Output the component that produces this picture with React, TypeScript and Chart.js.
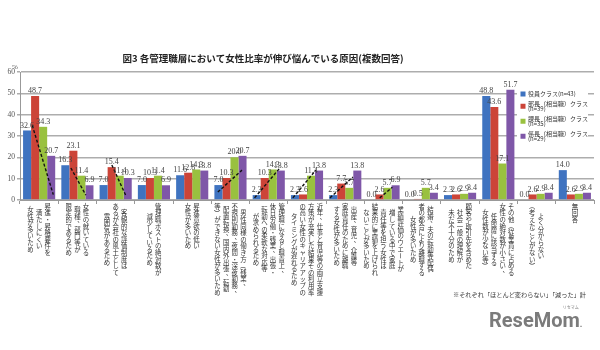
import React, { useEffect, useRef } from "react";
import { Chart, registerables } from "chart.js";
Chart.register(...registerables);

// Category labels: each entry is a list of vertical columns, read right to left
const categories: string[][] = [
  ["昇進・昇格要件を", "満たしにくい", "女性が多いため"],
  ["女性の就いている", "職種、部門等が", "限定的であるため"],
  ["客観的な評価制度は", "あるが会社の風土として", "雰囲気があるため"],
  ["管理職ポストの絶対数が", "減少しているため"],
  ["昇進意欲の低い", "女性が多いため"],
  ["男性同様の働き方（残業、", "不規則勤務、夜間・深夜勤務、", "配置転換、国内外出張、転勤", "等）ができない女性が多いため"],
  ["管理職になると職責上、", "休日労働・残業、出張・", "転勤への柔軟な対応等", "が求められるため"],
  ["近年、仕事と育児等の両立支援", "方策が充実した結果その利用率", "の高い女性のキャリアアップの", "タイミングが遅れるため"],
  ["出産、育児、介護等", "家庭責任のために離職", "する女性が多いため"],
  ["業績評価のウエートが", "増している中で家庭", "責任等を担う女性は", "結果的に業績を上げられ", "ないことが多いため"],
  ["結婚、夫の転勤等配偶", "者の都合により離職する", "女性が多いため"],
  ["顧客や取引先を含めた", "社会一般の理解が", "未だ不十分のため"],
  ["その他（従業員に占める", "女性の絶対数が小さい、", "任命層に該当する", "女性数が少ない等）"],
  ["よく分からない", "（考えたことがない）"],
  ["無回答"],
];

const seriesNames: string[][] = [
  ["役員クラス(n=43)"],
  ["部長（相当職）クラス", "(n=39)"],
  ["課長（相当職）クラス", "(n=35)"],
  ["係長（相当職）クラス", "(n=29)"],
];

const yakuin = [32.6, 16.3, 7.0, 7.0, 11.6, 7.0, 2.3, 2.3, 2.3, 0.0, 0.0, 2.3, 48.8, 0.0, 14.0];
const bucho = [48.7, 23.1, 15.4, 10.3, 12.8, 10.3, 10.3, 2.6, 7.7, 2.6, 0.5, 2.6, 43.6, 2.6, 2.6];
const kacho = [34.3, 11.4, 11.4, 11.4, 14.3, 20.0, 14.3, 11.4, 5.7, 5.7, 5.7, 2.9, 17.1, 2.9, 2.9];
const kakari = [20.7, 6.9, 10.3, 6.9, 13.8, 20.7, 13.8, 13.8, 13.8, 6.9, 3.4, 3.4, 51.7, 3.4, 3.4];

const yTicks = [0, 10, 20, 30, 40, 50, 60];

// dashed trend annotations (value at start, value at end), null = none
const trendFrom: (number | null)[] = [35, 15, 16.4, null, null, 3.7, 1, 1, 1, 1, null, null, null, null, null];
const trendTo: (number | null)[] = [2.5, 2.3, 2.3, null, null, 14, 15, 14, 10.8, 6, null, null, null, null, null];

const colors = ["#3f73c0", "#cc4438", "#99c13f", "#7f57a8"];

const title = "図3 各管理職層において女性比率が伸び悩んでいる原因(複数回答)";
const footnote = "※それぞれ「ほとんど変わらない」「減った」計";

const CJK = '"Noto Sans CJK JP", sans-serif';
const SERIF = '"Liberation Serif", "DejaVu Serif", serif';

// horizontal offsets of trend lines, as fraction of category width
const trendOffsets: [number, number][] = [
  [-0.18, 0.37], [-0.17, 0.22], [-0.1, 0.26], [0, 0], [0, 0],
  [-0.33, 0.3], [-0.37, 0.29], [-0.37, 0.23], [-0.4, 0.2], [-0.1, 0.23],
  [0, 0], [0, 0], [0, 0], [0, 0], [0, 0],
];

const rotateChars = new Set(["ー", "（", "）", "(", ")", "「", "」", "―"]);

const decorPlugin = {
  id: "decor",
  afterDatasetsDraw(chart: any) {
    const ctx = chart.ctx as CanvasRenderingContext2D;
    const xs = chart.scales.x;
    const ys = chart.scales.y;
    const catW = (chart.chartArea.right - chart.chartArea.left) / categories.length;

    // trend lines
    ctx.save();
    ctx.strokeStyle = "#111";
    ctx.lineWidth = 1.4;
    ctx.setLineDash([3, 2]);
    trendFrom.forEach((f, i) => {
      const t = trendTo[i];
      if (f == null || t == null) return;
      const cx = xs.getPixelForValue(i);
      const [o1, o2] = trendOffsets[i];
      ctx.beginPath();
      ctx.moveTo(cx + o1 * catW, ys.getPixelForValue(f));
      ctx.lineTo(cx + o2 * catW, ys.getPixelForValue(t));
      ctx.stroke();
    });
    ctx.restore();

    // data labels
    ctx.save();
    ctx.font = `8px ${SERIF}`;
    ctx.fillStyle = "#444";
    ctx.textAlign = "center";
    ctx.textBaseline = "bottom";
    chart.data.datasets.forEach((ds: any, di: number) => {
      const meta = chart.getDatasetMeta(di);
      meta.data.forEach((el: any, i: number) => {
        ctx.fillText(Number(ds.data[i]).toFixed(1), el.x, el.y - 1);
      });
    });
    ctx.restore();
  },
  afterDraw(chart: any) {
    const ctx = chart.ctx as CanvasRenderingContext2D;
    const xs = chart.scales.x;
    const area = chart.chartArea;

    // "%" unit
    ctx.save();
    ctx.font = `7px ${SERIF}`;
    ctx.fillStyle = "#555";
    ctx.textAlign = "center";
    ctx.textBaseline = "middle";
    ctx.fillText("%", 15, area.top - 5);
    ctx.restore();

    // title
    ctx.save();
    ctx.font = `bold 9.5px ${CJK}`;
    ctx.fillStyle = "#222";
    ctx.textAlign = "center";
    ctx.textBaseline = "middle";
    ctx.fillText(title, 263, 58);
    ctx.restore();

    // vertical category labels
    const charPitch = 6.6;
    const colPitch = 8.6;
    const top = area.bottom + 3;
    ctx.save();
    ctx.font = `6.4px ${CJK}`;
    ctx.fillStyle = "#333";
    ctx.textAlign = "center";
    ctx.textBaseline = "middle";
    categories.forEach((cols, i) => {
      const cx = xs.getPixelForValue(i);
      const n = cols.length;
      const maxLen = Math.max(...cols.map((c) => Array.from(c).length));
      cols.forEach((col, j) => {
        const x = cx + ((n - 1) / 2 - j) * colPitch;
        const chars = Array.from(col);
        const start = top + ((maxLen - chars.length) / 2) * charPitch;
        chars.forEach((ch, k) => {
          const y = start + k * charPitch + charPitch / 2;
          if (rotateChars.has(ch)) {
            ctx.save();
            ctx.translate(x, y);
            ctx.rotate(Math.PI / 2);
            ctx.fillText(ch, 0, 0);
            ctx.restore();
          } else if (ch === "、" || ch === "。") {
            ctx.fillText(ch, x + 3, y - 3);
          } else {
            ctx.fillText(ch, x, y);
          }
        });
      });
    });
    ctx.restore();

    // legend
    ctx.save();
    ctx.fillStyle = "#fff";
    ctx.fillRect(517, 87, 71, 57);
    ctx.font = `6px ${CJK}`;
    ctx.textBaseline = "middle";
    ctx.textAlign = "left";
    let y = 94;
    seriesNames.forEach((lines, i) => {
      const sqY = y + ((lines.length - 1) * 5.5) / 2;
      ctx.fillStyle = colors[i];
      ctx.fillRect(520.5, sqY - 2.5, 5, 5);
      ctx.fillStyle = "#333";
      lines.forEach((ln, k) => {
        ctx.fillText(ln, 528, y + k * 5.5);
      });
      y += (lines.length - 1) * 5.5 + 9.5;
    });
    ctx.restore();

    // footnote
    ctx.save();
    ctx.font = `6.2px ${CJK}`;
    ctx.fillStyle = "#333";
    ctx.textAlign = "right";
    ctx.textBaseline = "middle";
    ctx.fillText(footnote, 586, 295);
    ctx.restore();

    // logo
    ctx.save();
    ctx.font = `bold 20px Roboto, "Open Sans", sans-serif`;
    ctx.fillStyle = "#7b7b7b";
    ctx.textAlign = "left";
    ctx.textBaseline = "alphabetic";
    ctx.fillText("ReseMom", 489, 327);
    const w = ctx.measureText("ReseMom").width;
    ctx.font = `bold 9px Roboto, sans-serif`;
    ctx.fillText(".", 489 + w, 327);
    ctx.font = `4px ${CJK}`;
    ctx.textAlign = "center";
    ctx.fillText("リセマム", 489 + w - 9, 309);
    ctx.restore();
  },
};

export default function App() {
  const ref = useRef<HTMLCanvasElement | null>(null);
  useEffect(() => {
    if (!ref.current) return;
    const series = [yakuin, bucho, kacho, kakari];
    const chart = new Chart(ref.current, {
      type: "bar",
      data: {
        labels: categories.map((c) => c.join("")),
        datasets: series.map((d, i) => ({
          label: seriesNames[i].join(""),
          data: d,
          backgroundColor: colors[i],
          borderWidth: 0,
          categoryPercentage: 0.84,
          barPercentage: 1.0,
        })),
      },
      options: {
        responsive: false,
        animation: false,
        devicePixelRatio: 1,
        layout: { padding: { top: 72, left: 0, right: 6, bottom: 150 } },
        plugins: { legend: { display: false }, tooltip: { enabled: false }, title: { display: false } },
        scales: {
          x: {
            type: "category",
            grid: { display: true, drawOnChartArea: false, drawTicks: true, tickLength: 4, color: "#999", offset: true },
            border: { color: "#999", width: 1 },
            ticks: { display: false },
            afterFit: (s: any) => {
              s.height = 0;
            },
          },
          y: {
            min: 0,
            max: 60,
            afterBuildTicks: (s: any) => {
              s.ticks = yTicks.map((v) => ({ value: v }));
            },
            ticks: { font: { family: SERIF, size: 7.5 }, color: "#555", padding: 2 },
            grid: { color: "#adadad", lineWidth: 1.5, tickLength: 3 },
            border: { color: "#999", width: 1 },
            afterFit: (s: any) => {
              s.width = 20;
            },
          },
        },
      },
      plugins: [decorPlugin],
    });
    return () => chart.destroy();
  }, []);
  return (
    <div style={{ position: "fixed", left: 0, top: 0, width: 600, height: 350, background: "#fff" }}>
      <canvas ref={ref} width={600} height={350} style={{ display: "block" }} />
    </div>
  );
}
